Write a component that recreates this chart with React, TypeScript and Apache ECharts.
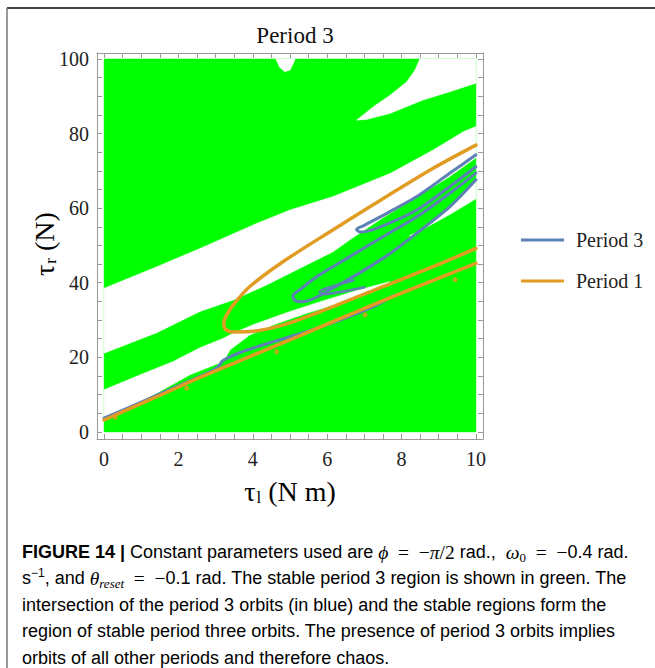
import React, { useEffect, useRef } from "react";
import * as echarts from "echarts";

// ---------- axes ----------
const X_MIN = -0.19;
const X_MAX = 10.19;
const Y_MIN = -1.9;
const Y_MAX = 101.6;
const xTickLabels = [0, 2, 4, 6, 8, 10];
const yTickLabels = [0, 20, 40, 60, 80, 100];
const xTicks = [0, 0.5, 1, 1.5, 2, 2.5, 3, 3.5, 4, 4.5, 5, 5.5, 6, 6.5, 7, 7.5, 8, 8.5, 9, 9.5, 10];
const yTicks = [0, 5, 10, 15, 20, 25, 30, 35, 40, 45, 50, 55, 60, 65, 70, 75, 80, 85, 90, 95, 100];

// ---------- stable (green) region and the unstable (white) holes ----------
const stableRegion = [[0, 0], [10, 0], [10, 100], [0, 100]];
const holeTopNotch = [[4.62, 100], [4.72, 97.8], [4.86, 96.6], [5.0, 97.0], [5.1, 99.0], [5.14, 100]];
const holeTopWedge = [
  [6.79, 83.6], [7.24, 87.2], [7.69, 90.3], [8.14, 93.9], [8.36, 97.0], [8.49, 100],
  [10, 100], [10, 93.5], [9.3, 91.2], [8.58, 89.0], [7.69, 85.4], [7.06, 83.8],
];
const holeUpperBand = [
  [0, 38.5], [1.42, 44.3], [2.58, 49.2], [4.1, 55.9], [5.0, 59.5], [6.16, 63.1], [7.69, 69.3],
  [8.85, 75.6], [9.66, 80.5], [10, 81.9], [10, 73.5], [9.3, 68.5], [8.41, 63.0], [7.51, 57.5],
  [6.61, 51.5], [6.16, 48.3], [5.27, 43.9], [4.37, 39.4], [3.48, 35.4], [2.58, 32.3], [1.42, 26.6], [0, 21.1],
];
const holeLowerBand = [
  [0, 11.3], [0.97, 15.3], [1.86, 18.9], [2.58, 22.6], [3.21, 25.1], [3.48, 26.5], [4.1, 29.1],
  [5.0, 32.3], [5.9, 35.2], [6.79, 37.9], [7.69, 40.3], [7.24, 37.6], [6.34, 34.5], [5.45, 31.8],
  [4.55, 28.7], [3.92, 26.0], [3.39, 22.0], [3.21, 18.9], [2.31, 15.3], [1.42, 10.4], [0.52, 5.9], [0, 3.7],
];
const holeRightSliver = [[10, 67.6], [10, 62.5], [9.3, 58.3], [8.6, 54.5], [8.2, 52.5], [8.41, 53.3], [9.3, 60.4]];

// ---------- Period 1 orbits (orange) ----------
const period1Lower = [[0, 3.2], [1.3, 8.9], [2.58, 14.6], [5, 24.7], [7.5, 35.2], [10, 45.2]];
const period1Loop = [
  [10, 76.9], [8.85, 70.7], [7.51, 62.6], [6.16, 54.2], [4.82, 45.7], [3.92, 39.0], [3.55, 35.0],
  [3.32, 31.8], [3.22, 29.2], [3.26, 27.6], [3.45, 26.8], [3.92, 26.9], [4.82, 28.7], [6.16, 33.6],
  [7.51, 39.0], [8.85, 44.3], [10, 49.2],
];
const period1Dots = [[0.3, 3.9], [2.22, 11.7], [4.64, 21.5], [7.02, 31.4], [9.44, 40.8]];

// ---------- Period 3 orbits (blue) ----------
const period3Lower = [
  [0, 3.7], [1, 8.0], [2, 12.4], [2.9, 16.4], [3.1, 17.8], [3.17, 18.9], [3.3, 19.7], [3.66, 21.3],
  [4.55, 24.2], [5.45, 26.9], [6.34, 30.0], [7.24, 33.6], [7.8, 36.6],
];
const period3Middle = [
  [10, 69.4], [9.3, 64.0], [8.41, 57.7], [7.51, 52.4], [6.61, 47.0], [5.72, 41.6], [5.3, 38.4],
  [5.08, 36.4], [5.14, 35.2], [5.35, 34.9], [6.16, 38.6], [7.51, 46.6], [8.41, 53.3], [9.3, 60.4], [10, 67.6],
];
const period3Upper = [
  [10, 74.3], [9.3, 69.4], [8.41, 63.1], [7.6, 58.6], [7.0, 55.4], [6.79, 54.3], [6.88, 53.6],
  [7.33, 54.6], [8.41, 59.5], [9.3, 65.8], [10, 71.1],
];
const period3Inner = [[6.7, 40.6], [6.1, 38.9], [5.8, 37.6], [5.9, 36.9], [6.4, 37.6], [7.0, 38.8]];

const GREEN = "#00ff00";
const BLUE = "#5e81b5";
const ORANGE = "#e19c24";
const AXIS_GRAY = "#9a9a9a";
const SERIF = "Liberation Serif";
const SANS = "Liberation Sans";

function regionSeries(pts: number[][], color: string, z: number) {
  return {
    type: "custom",
    coordinateSystem: "cartesian2d",
    silent: true,
    z,
    clip: true,
    data: [[0, 0]],
    renderItem: (_p: any, api: any) => ({
      type: "polygon",
      shape: { points: pts.map((p) => api.coord(p)) },
      style: { fill: color, stroke: color, lineWidth: 0.5 },
    }),
  };
}

function lineSeries(name: string, pts: number[][], color: string, width: number, z: number) {
  return {
    type: "line",
    name,
    data: pts,
    showSymbol: false,
    symbol: "none",
    smooth: 0.3,
    z,
    color,
    itemStyle: { color },
    lineStyle: { color, width, cap: "round", join: "round" },
  };
}

const tickStyle = { show: true, inside: true, length: 5, lineStyle: { color: AXIS_GRAY } };
const axisLine = { show: true, onZero: false, lineStyle: { color: AXIS_GRAY, width: 1 } };

const CAP_SIZE = 18;
const CAP_COLOR = "#3d3d3d";
const captionBase = { fontFamily: SANS, fontSize: CAP_SIZE, color: CAP_COLOR, lineHeight: 20 };
const captionRich: any = {
  n: { ...captionBase },
  b: { ...captionBase, fontWeight: "bold", color: "#2a2a2a" },
  m: { fontFamily: SERIF, fontSize: 19.5, color: CAP_COLOR, lineHeight: 20 },
  i: { fontFamily: SERIF, fontStyle: "italic", fontSize: 19.5, color: CAP_COLOR, lineHeight: 20 },
  sub: { fontFamily: SERIF, fontSize: 13, color: CAP_COLOR, padding: [10, 0, 0, 0] },
  subi: { fontFamily: SERIF, fontStyle: "italic", fontSize: 13, color: CAP_COLOR, padding: [10, 0, 0, 0] },
  sup: { ...captionBase, fontSize: 12, lineHeight: 14, padding: [0, 0, 10, 0] },
};
const captionLines = [
  "{b|FIGURE 14 |}{n| Constant parameters used are }{i|ϕ}{m|\u2002=\u2002−}{i|π}{m|/2}{n| rad.,  }{i|ω}{sub|0}{m|\u2002=\u2002−}{n|0.4 rad.}",
  "{n|s}{sup|−1}{n|, and }{i|θ}{subi|reset}{m|\u2002=\u2002−}{n|0.1 rad. The stable period 3 region is shown in green. The}",
  "{n|intersection of the period 3 orbits (in blue) and the stable regions form the}",
  "{n|region of stable period three orbits. The presence of period 3 orbits implies}",
  "{n|orbits of all other periods and therefore chaos.}",
];

function textEl(text: string, x: number, y: number, rich: any, extra: any = {}, styleExtra: any = {}) {
  return {
    type: "text",
    x,
    y,
    silent: true,
    ...extra,
    style: {
      text,
      rich,
      align: "left",
      textAlign: "left",
      verticalAlign: "middle",
      textVerticalAlign: "middle",
      ...styleExtra,
    },
  };
}

export default function App() {
  const ref = useRef<HTMLDivElement>(null);
  useEffect(() => {
    const chart = echarts.init(ref.current!, null, { renderer: "svg" });
    const axisRich = {
      a: { fontFamily: SERIF, fontSize: 28, color: "#222" },
      s: { fontFamily: SERIF, fontSize: 17, color: "#222", padding: [12, 0, 0, 1] },
    };
    const option: any = {
      animation: false,
      backgroundColor: "#fff",
      title: {
        text: "Period 3",
        left: 290,
        top: 19,
        textAlign: "center",
        textStyle: { fontFamily: SERIF, fontSize: 23, fontWeight: "normal", color: "#111" },
      },
      legend: {
        orient: "vertical",
        left: 516,
        top: 225,
        itemWidth: 43,
        itemHeight: 3,
        itemGap: 21,
        icon: "rect",
        data: ["Period 3", "Period 1"],
        textStyle: { fontFamily: SERIF, fontSize: 20, color: "#222", padding: [0, 0, 0, 7] },
      },
      grid: { left: 97, top: 53, width: 386, height: 386, containLabel: false },
      xAxis: [
        {
          type: "value",
          min: X_MIN,
          max: X_MAX,
          position: "bottom",
          splitLine: { show: false },
          axisLine,
          axisTick: { ...tickStyle, customValues: xTicks },
          axisLabel: { customValues: xTickLabels, margin: 10, fontFamily: SERIF, fontSize: 20, color: "#222" },
        },
        {
          type: "value",
          min: X_MIN,
          max: X_MAX,
          position: "top",
          splitLine: { show: false },
          axisLine,
          axisTick: { ...tickStyle, customValues: xTicks },
          axisLabel: { show: false },
        },
      ],
      yAxis: [
        {
          type: "value",
          min: Y_MIN,
          max: Y_MAX,
          position: "left",
          splitLine: { show: false },
          axisLine,
          axisTick: { ...tickStyle, customValues: yTicks },
          axisLabel: { customValues: yTickLabels, margin: 8, fontFamily: SERIF, fontSize: 20, color: "#222" },
        },
        {
          type: "value",
          min: Y_MIN,
          max: Y_MAX,
          position: "right",
          splitLine: { show: false },
          axisLine,
          axisTick: { ...tickStyle, customValues: yTicks },
          axisLabel: { show: false },
        },
      ],
      series: [
        regionSeries(stableRegion, GREEN, 1),
        regionSeries(holeTopNotch, "#ffffff", 2),
        regionSeries(holeTopWedge, "#ffffff", 2),
        regionSeries(holeUpperBand, "#ffffff", 2),
        regionSeries(holeLowerBand, "#ffffff", 2),
        regionSeries(holeRightSliver, "#ffffff", 2),
        lineSeries("Period 3", period3Lower, BLUE, 3, 3),
        lineSeries("Period 3", period3Middle, BLUE, 3, 3),
        lineSeries("Period 3", period3Upper, BLUE, 3, 3),
        lineSeries("Period 3", period3Inner, BLUE, 2.5, 3),
        lineSeries("Period 1", period1Lower, ORANGE, 3.5, 4),
        lineSeries("Period 1", period1Loop, ORANGE, 3.5, 4),
        {
          type: "scatter",
          name: "Period 1",
          data: period1Dots,
          symbolSize: 5,
          z: 4,
          itemStyle: { color: ORANGE },
          silent: true,
        },
      ],
      graphic: [
        { type: "line", silent: true, shape: { x1: 7, y1: 8, x2: 655, y2: 8 }, style: { stroke: "#444", lineWidth: 2 } },
        { type: "line", silent: true, shape: { x1: 7, y1: 8, x2: 7, y2: 668 }, style: { stroke: "#777", lineWidth: 1.5 } },
        textEl("{a|τ}{s|l}{a| (N m)}", 290, 491, axisRich, {}, { align: "center", textAlign: "center" }),
        textEl("{a|τ}{s|r}{a| (N)}", 44, 244, axisRich, { rotation: Math.PI / 2 }, { align: "center", textAlign: "center" }),
        ...captionLines.map((t, i) => textEl(t, 22, 552 + i * 26.4, captionRich)),
      ],
    };
    chart.setOption(option);
    return () => chart.dispose();
  }, []);
  return (
    <div
      ref={ref}
      style={{ position: "absolute", left: 0, top: 0, width: 655, height: 668, background: "#fff" }}
    />
  );
}
